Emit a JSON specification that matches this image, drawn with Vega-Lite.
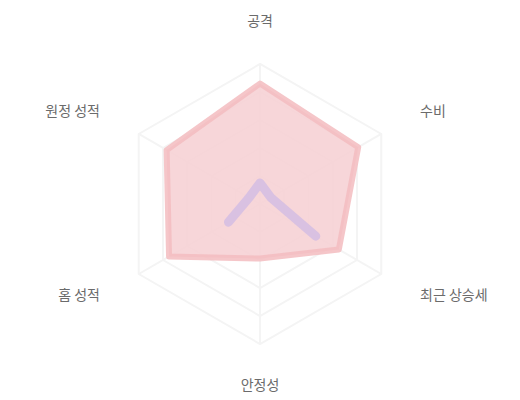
{
  "$schema": "https://vega.github.io/schema/vega-lite/v6.json",
  "width": 520,
  "height": 400,
  "autosize": {"type": "fit", "contains": "padding"},
  "padding": 0,
  "background": "white",
  "config": {
    "view": {"stroke": null},
    "font": "Noto Sans CJK KR"
  },
  "datasets": {
    "axes": [
      {"i": 0, "label": "공격"},
      {"i": 1, "label": "수비"},
      {"i": 2, "label": "최근 상승세"},
      {"i": 3, "label": "안정성"},
      {"i": 4, "label": "홈 성적"},
      {"i": 5, "label": "원정 성적"}
    ],
    "rings": [
      {"ring": 20, "i": [0, 1, 2, 3, 4, 5]},
      {"ring": 40, "i": [0, 1, 2, 3, 4, 5]},
      {"ring": 60, "i": [0, 1, 2, 3, 4, 5]},
      {"ring": 80, "i": [0, 1, 2, 3, 4, 5]},
      {"ring": 100, "i": [0, 1, 2, 3, 4, 5]}
    ],
    "scores": [
      {"series": "A", "i": 0, "v": 86},
      {"series": "A", "i": 1, "v": 81},
      {"series": "A", "i": 2, "v": 65},
      {"series": "A", "i": 3, "v": 39},
      {"series": "A", "i": 4, "v": 75},
      {"series": "A", "i": 5, "v": 77}
    ],
    "trend": [
      {"series": "B", "i": 4, "o": 0, "v": 26},
      {"series": "B", "i": 5, "o": 1, "v": 9},
      {"series": "B", "i": 0, "o": 2, "v": 15},
      {"series": "B", "i": 1, "o": 3, "v": 9},
      {"series": "B", "i": 2, "o": 4, "v": 46}
    ]
  },
  "layer": [
    {
      "data": {"name": "rings"},
      "transform": [
        {"flatten": ["i"]},
        {"calculate": "datum.i * PI / 3", "as": "theta"},
        {"calculate": "datum.ring * sin(datum.theta)", "as": "x"},
        {"calculate": "datum.ring * cos(datum.theta)", "as": "y"}
      ],
      "mark": {"type": "line", "interpolate": "linear-closed", "stroke": "#f4f4f4", "strokeWidth": 2},
      "encoding": {
        "x": {"field": "x", "type": "quantitative", "scale": {"domain": [-185.7, 185.7], "nice": false, "zero": false}, "axis": null},
        "y": {"field": "y", "type": "quantitative", "scale": {"domain": [-140, 145.7], "nice": false, "zero": false}, "axis": null},
        "detail": {"field": "ring"},
        "order": {"field": "i"}
      }
    },
    {
      "data": {"name": "axes"},
      "transform": [
        {"calculate": "datum.i * PI / 3", "as": "theta"},
        {"calculate": "100 * sin(datum.theta)", "as": "x"},
        {"calculate": "100 * cos(datum.theta)", "as": "y"}
      ],
      "mark": {"type": "rule", "stroke": "#f4f4f4", "strokeWidth": 2},
      "encoding": {
        "x": {"field": "x", "type": "quantitative"},
        "y": {"field": "y", "type": "quantitative"},
        "x2": {"datum": 0},
        "y2": {"datum": 0}
      }
    },
    {
      "data": {"name": "scores"},
      "transform": [
        {"calculate": "datum.i * PI / 3", "as": "theta"},
        {"calculate": "datum.v * sin(datum.theta)", "as": "x"},
        {"calculate": "datum.v * cos(datum.theta)", "as": "y"}
      ],
      "mark": {
        "type": "line",
        "interpolate": "linear-closed",
        "fill": "#f6d2d5",
        "fillOpacity": 0.9,
        "stroke": "#f3bcc0",
        "strokeWidth": 6,
        "strokeJoin": "round",
        "strokeOpacity": 0.85
      },
      "encoding": {
        "x": {"field": "x", "type": "quantitative"},
        "y": {"field": "y", "type": "quantitative"},
        "order": {"field": "i"}
      }
    },
    {
      "data": {"name": "trend"},
      "transform": [
        {"calculate": "datum.i * PI / 3", "as": "theta"},
        {"calculate": "datum.v * sin(datum.theta)", "as": "x"},
        {"calculate": "datum.v * cos(datum.theta)", "as": "y"}
      ],
      "mark": {
        "type": "line",
        "stroke": "#d3bde3",
        "strokeWidth": 9,
        "strokeJoin": "round",
        "strokeCap": "round",
        "strokeOpacity": 0.85
      },
      "encoding": {
        "x": {"field": "x", "type": "quantitative"},
        "y": {"field": "y", "type": "quantitative"},
        "order": {"field": "o"}
      }
    },
    {
      "data": {"name": "axes"},
      "transform": [
        {"filter": "datum.i == 0 || datum.i == 3"},
        {"calculate": "datum.i * PI / 3", "as": "theta"},
        {"calculate": "130 * sin(datum.theta)", "as": "x"},
        {"calculate": "130 * cos(datum.theta)", "as": "y"}
      ],
      "mark": {"type": "text", "align": "center", "baseline": "middle", "fontSize": 14, "color": "#6b6b6b"},
      "encoding": {
        "x": {"field": "x", "type": "quantitative"},
        "y": {"field": "y", "type": "quantitative"},
        "text": {"field": "label"}
      }
    },
    {
      "data": {"name": "axes"},
      "transform": [
        {"filter": "datum.i == 1 || datum.i == 2"},
        {"calculate": "datum.i * PI / 3", "as": "theta"},
        {"calculate": "132 * sin(datum.theta)", "as": "x"},
        {"calculate": "132 * cos(datum.theta)", "as": "y"}
      ],
      "mark": {"type": "text", "align": "left", "baseline": "middle", "fontSize": 14, "color": "#6b6b6b"},
      "encoding": {
        "x": {"field": "x", "type": "quantitative"},
        "y": {"field": "y", "type": "quantitative"},
        "text": {"field": "label"}
      }
    },
    {
      "data": {"name": "axes"},
      "transform": [
        {"filter": "datum.i == 4 || datum.i == 5"},
        {"calculate": "datum.i * PI / 3", "as": "theta"},
        {"calculate": "132 * sin(datum.theta)", "as": "x"},
        {"calculate": "132 * cos(datum.theta)", "as": "y"}
      ],
      "mark": {"type": "text", "align": "right", "baseline": "middle", "fontSize": 14, "color": "#6b6b6b"},
      "encoding": {
        "x": {"field": "x", "type": "quantitative"},
        "y": {"field": "y", "type": "quantitative"},
        "text": {"field": "label"}
      }
    }
  ]
}
